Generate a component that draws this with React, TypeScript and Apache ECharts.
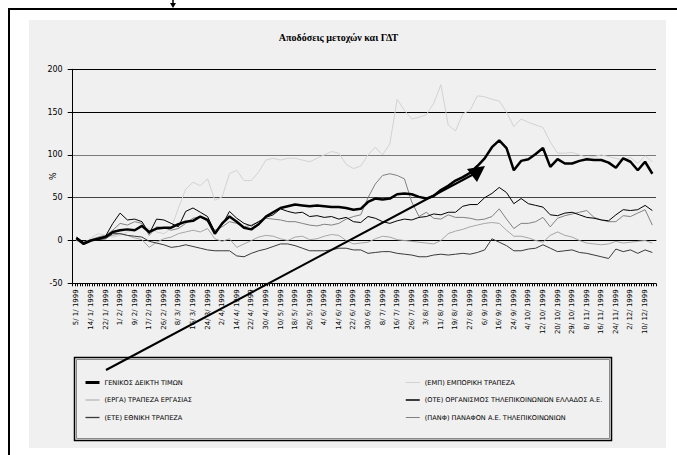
import React, { useEffect, useRef } from "react";
import * as echarts from "echarts";

// Tick labels along the date axis (one label every sixth trading day)
const TICK_LABELS = [
  "5/ 1/ 1999", "14/ 1/ 1999", "22/ 1/ 1999", "1/ 2/ 1999", "9/ 2/ 1999",
  "17/ 2/ 1999", "26/ 2/ 1999", "8/ 3/ 1999", "16/ 3/ 1999", "24/ 3/ 1999",
  "2/ 4/ 1999", "14/ 4/ 1999", "22/ 4/ 1999", "30/ 4/ 1999", "10/ 5/ 1999",
  "18/ 5/ 1999", "26/ 5/ 1999", "4/ 6/ 1999", "14/ 6/ 1999", "22/ 6/ 1999",
  "30/ 6/ 1999", "8/ 7/ 1999", "16/ 7/ 1999", "26/ 7/ 1999", "3/ 8/ 1999",
  "11/ 8/ 1999", "19/ 8/ 1999", "27/ 8/ 1999", "6/ 9/ 1999", "16/ 9/ 1999",
  "24/ 9/ 1999", "4/ 10/ 1999", "12/ 10/ 1999", "20/ 10/ 1999", "29/ 10/ 1999",
  "8/ 11/ 1999", "16/ 11/ 1999", "24/ 11/ 1999", "2/ 12/ 1999", "10/ 12/ 1999",
];

// Returns (%) sampled every third trading day
const GDT = [
  3, -4, 0, 2, 4, 10, 12, 13, 12, 17,
  10, 14, 15, 15, 19, 22, 23, 28, 24, 8,
  20, 28, 22, 15, 13, 19, 28, 33, 38, 40,
  42, 41, 40, 41, 40, 39, 39, 38, 36, 37,
  45, 49, 48, 49, 54, 55, 54, 51, 49, 52,
  59, 64, 70, 74, 79, 87, 96, 109, 117, 108,
  82, 93, 95, 101, 108, 86, 95, 90, 90, 93,
  95, 94, 94, 91, 85, 96, 92, 82, 92, 78,
];
const EMP = [
  2, -3, 3, 8, 6, 4, 6, 10, 12, 16,
  14, 10, 8, 14, 38, 60, 68, 64, 72, 47,
  51, 78, 82, 70, 70, 80, 94, 96, 94, 96,
  96, 94, 92, 96, 100, 104, 102, 89, 84, 87,
  100, 109, 100, 113, 165, 152, 142, 144, 147, 160,
  182, 135, 128, 148, 152, 169, 168, 165, 163, 150,
  133, 142, 138, 135, 132, 115, 102, 102, 103, 100,
  97, 98, 100, 98, 96, 94, 97, 90, 99, 92,
];
const ERGA = [
  0, -4, -1, 3, 5, 6, 8, 6, 3, 1,
  -8, -2, 2, 4, 8, 10, 12, 10, 14, 2,
  -1, 2, -8, -4, 0, 4, 6, 5, 2, 0,
  4, 5, 1, 2, 5, 7, 6, 0, -4, -3,
  -2, 2, 5, 4, 1, 0, -1, -2, -3, -4,
  0, 8, 11, 13, 16, 18, 20, 21, 20, 12,
  5, 5, 3, 0, -2, 6, 10, 6, 4, 0,
  -3, -4, -5, -4, -1, -3, -2, -1, 0, -3,
];
const OTE = [
  4, -2, 0, 2, 5, 20, 32, 24, 25, 22,
  8, 25, 24, 20, 16, 34, 38, 33, 28, 10,
  18, 34, 26, 20, 17, 22, 27, 30, 37, 34,
  32, 33, 28, 29, 27, 28, 25, 27, 22, 21,
  28, 26, 22, 20, 23, 25, 24, 27, 28, 31,
  30, 33, 33, 40, 42, 42, 50, 55, 62, 56,
  43, 49, 43, 41, 39, 30, 29, 32, 33, 30,
  27, 26, 24, 23, 30, 36, 35, 36, 41, 35,
];
const ETE = [
  2, -3, 0, 1, 2, 8, 8, 6, 5, 4,
  -1, -3, -5, -8, -7, -5, -7, -9, -11, -12,
  -12, -12, -18, -19, -15, -12, -10, -7, -4, -4,
  -6, -9, -12, -12, -12, -11, -9, -9, -11, -11,
  -15, -14, -13, -13, -15, -16, -17, -19, -19, -17,
  -16, -17, -16, -15, -16, -14, -11, 2, -2, -6,
  -12, -12, -10, -9, -5, -9, -13, -12, -11, -14,
  -15, -17, -19, -21, -10, -13, -11, -15, -11, -14,
];
const PANF = [
  2, -3, 1, 4, 6, 12, 20, 18, 22, 20,
  6, 16, 15, 12, 14, 20, 26, 28, 22, 12,
  16, 22, 20, 16, 18, 22, 26, 25, 24, 22,
  22, 20, 18, 17, 19, 18, 20, 25, 28, 30,
  50, 66, 76, 78, 76, 72, 45, 28, 33, 26,
  25, 30, 27, 27, 26, 24, 25, 28, 37, 25,
  14, 20, 20, 22, 27, 16, 26, 29, 31, 33,
  35, 27, 24, 22, 22, 29, 28, 32, 36, 18,
];

const NAMES = {
  gdt: "ΓΕΝΙΚΟΣ ΔΕΙΚΤΗ ΤΙΜΩΝ",
  emp: "(ΕΜΠ) ΕΜΠΟΡΙΚΗ ΤΡΑΠΕΖΑ",
  erga: "(ΕΡΓΑ) ΤΡΑΠΕΖΑ ΕΡΓΑΣΙΑΣ",
  ote: "(ΟΤΕ) ΟΡΓΑΝΙΣΜΟΣ ΤΗΛΕΠΙΚΟΙΝΩΝΙΩΝ ΕΛΛΑΔΟΣ Α.Ε.",
  ete: "(ΕΤΕ) ΕΘΝΙΚΗ ΤΡΑΠΕΖΑ",
  panf: "(ΠΑΝΦ) ΠΑΝΑΦΟΝ Α.Ε. ΤΗΛΕΠΙΚΟΙΝΩΝΙΩΝ",
};

const SANS = "DejaVu Sans";

export default function App() {
  const ref = useRef<HTMLDivElement>(null);

  useEffect(() => {
    if (!ref.current) return;
    const chart = echarts.init(ref.current, null, { renderer: "svg" });

    const categories = GDT.map((_, i) => String(i));
    const fineTicks = Array.from({ length: GDT.length * 3 }, (_, i) => String(i));

    const line = (name: string, data: number[], color: string, width: number, z: number) => ({
      name,
      type: "line",
      data,
      symbol: "none",
      z,
      lineStyle: { color, width },
      itemStyle: { color },
      emphasis: { disabled: true },
    });

    const legendItem = (name: string, width: number) => ({ name, lineStyle: { width } });

    const legendBase = {
      orient: "vertical",
      top: 379,
      itemWidth: 14,
      itemHeight: 8,
      itemGap: 10.5,
      padding: 0,
      selectedMode: false,
      // keep only the line part of each legend icon
      itemStyle: { color: "transparent", borderWidth: 0, borderColor: "transparent" },
      textStyle: { fontFamily: SANS, fontSize: 6.6, color: "#000" },
    };

    chart.setOption({
      animation: false,
      backgroundColor: "#ffffff",
      title: {
        text: "Αποδόσεις μετοχών και ΓΔΤ",
        left: "center",
        top: 27,
        textStyle: {
          fontFamily: "Liberation Serif",
          fontWeight: "bold",
          fontSize: 10,
          color: "#000",
        },
      },
      grid: { left: 72.7, right: 21, top: 69.3, bottom: 171.7, containLabel: false },
      legend: [
        {
          ...legendBase,
          left: 84,
          data: [legendItem(NAMES.gdt, 3), legendItem(NAMES.erga, 1), legendItem(NAMES.ete, 1.3)],
        },
        {
          ...legendBase,
          left: 405,
          data: [legendItem(NAMES.emp, 1), legendItem(NAMES.ote, 1.5), legendItem(NAMES.panf, 1)],
        },
      ],
      xAxis: [
        {
          type: "category",
          data: categories,
          boundaryGap: true,
          axisLine: { lineStyle: { color: "#000", width: 1 } },
          axisTick: { show: false },
          axisLabel: {
            interval: 1,
            rotate: 90,
            margin: 6,
            fontFamily: SANS,
            fontSize: 7,
            color: "#000",
            formatter: (_v: string, i: number) => TICK_LABELS[i / 2] ?? "",
          },
          splitLine: { show: false },
        },
        {
          type: "category",
          data: fineTicks,
          position: "bottom",
          boundaryGap: true,
          axisLine: { show: false },
          axisLabel: { show: false },
          axisTick: { show: true, interval: 0, length: 3, lineStyle: { color: "#000" } },
          splitLine: { show: false },
        },
      ],
      yAxis: {
        type: "value",
        min: -50,
        max: 200,
        interval: 50,
        name: "%",
        nameLocation: "middle",
        nameRotate: 90,
        nameGap: 15,
        nameMoveOverlap: false,
        nameTextStyle: { fontFamily: SANS, fontSize: 8, color: "#000" },
        axisLine: { show: true, lineStyle: { color: "#000", width: 1 } },
        axisTick: { show: true, length: 5, lineStyle: { color: "#000" } },
        axisLabel: { fontFamily: SANS, fontSize: 8, color: "#000", margin: 10 },
        splitLine: {
          show: true,
          lineStyle: {
            color: ["#000", "#000", "#444", "#7a7a7a", "#000", "#000"],
            width: 1,
          },
        },
      },
      graphic: [
        // grey chart-area panel
        {
          type: "rect",
          z: -100,
          silent: true,
          shape: { x: 29, y: 20, width: 637, height: 428 },
          style: { fill: "#f0f0f0" },
        },
        // frame edges
        {
          type: "line",
          z: 100,
          silent: true,
          shape: { x1: 8, y1: 9, x2: 677, y2: 9 },
          style: { stroke: "#000", lineWidth: 2 },
        },
        {
          type: "line",
          z: 100,
          silent: true,
          shape: { x1: 9, y1: 8, x2: 9, y2: 455 },
          style: { stroke: "#000", lineWidth: 2 },
        },
        // small pointer at the top edge
        {
          type: "line",
          z: 100,
          silent: true,
          shape: { x1: 173, y1: 0, x2: 173, y2: 4 },
          style: { stroke: "#000", lineWidth: 1.5 },
        },
        {
          type: "polygon",
          z: 100,
          silent: true,
          shape: { points: [[170, 3], [176, 3], [173, 8]] },
          style: { fill: "#000" },
        },
        // legend frame
        {
          type: "rect",
          z: 50,
          silent: true,
          shape: { x: 74.5, y: 357.5, width: 537, height: 83 },
          style: { fill: "none", stroke: "#000", lineWidth: 1.5 },
        },
        {
          type: "rect",
          z: 50,
          silent: true,
          shape: { x: 76.5, y: 359.5, width: 533, height: 79 },
          style: { fill: "none", stroke: "#8a8a8a", lineWidth: 1 },
        },
        // annotation arrow from the legend to the index line
        {
          type: "line",
          z: 100,
          silent: true,
          shape: { x1: 106, y1: 370, x2: 474, y2: 174 },
          style: { stroke: "#000", lineWidth: 2 },
        },
        {
          type: "polygon",
          z: 100,
          silent: true,
          shape: { points: [[467, 169], [485, 166], [477, 182]] },
          style: { fill: "#000" },
        },
      ],
      series: [
        line(NAMES.emp, EMP, "#d2d2d2", 1, 2),
        line(NAMES.erga, ERGA, "#a6a6a6", 1, 3),
        line(NAMES.panf, PANF, "#808080", 1, 4),
        line(NAMES.ete, ETE, "#3a3a3a", 1, 5),
        line(NAMES.ote, OTE, "#000000", 1, 6),
        line(NAMES.gdt, GDT, "#000000", 2.5, 10),
      ],
    });

    return () => chart.dispose();
  }, []);

  return (
    <div
      ref={ref}
      style={{ position: "absolute", left: 0, top: 0, width: 677, height: 455 }}
    />
  );
}
